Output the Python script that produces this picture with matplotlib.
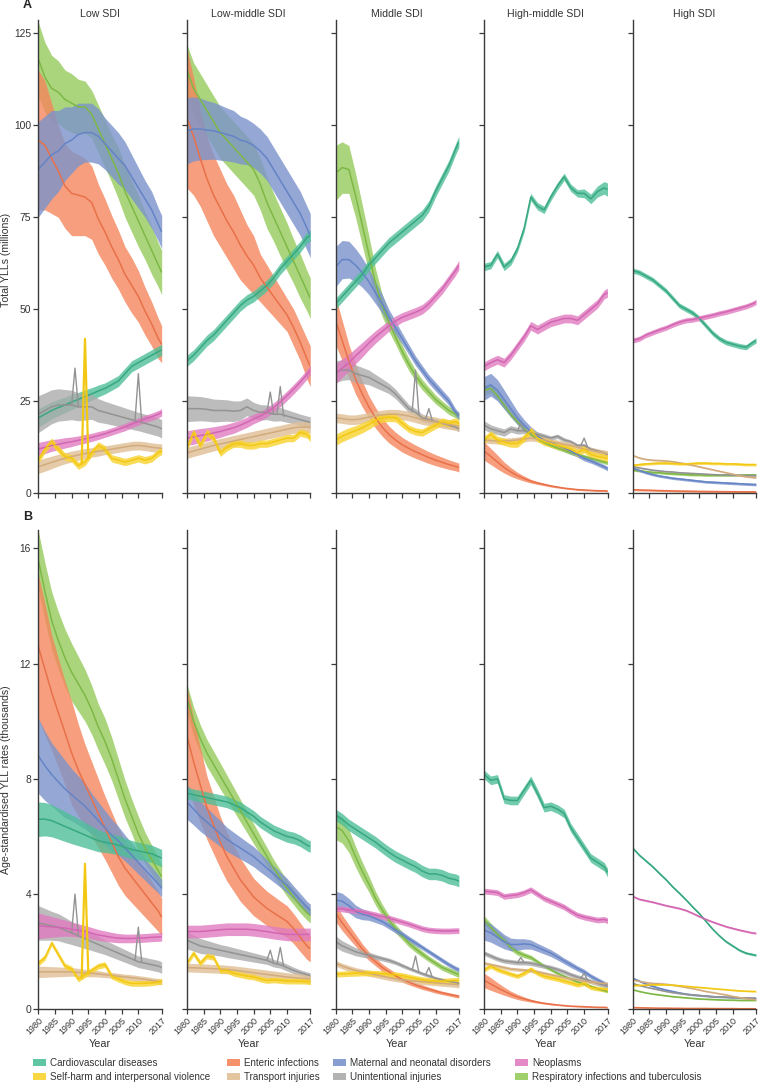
import numpy as np
import matplotlib.pyplot as plt
from matplotlib.patches import Rectangle

plt.rcParams['font.family'] = ['Liberation Sans Narrow', 'Liberation Sans', 'DejaVu Sans']

YEARS = [1980, 1982, 1984, 1986, 1988, 1990, 1992, 1994, 1996, 1998,
         2000, 2002, 2004, 2006, 2008, 2010, 2012, 2014, 2016, 2017]

# drawing order (bottom to top)
CAUSES = ["res", "ent", "mat", "cvd", "uni", "neo", "tra", "shv"]
LABELS = {
    "cvd": "Cardiovascular diseases",
    "ent": "Enteric infections",
    "mat": "Maternal and neonatal disorders",
    "neo": "Neoplasms",
    "shv": "Self-harm and interpersonal violence",
    "tra": "Transport injuries",
    "uni": "Unintentional injuries",
    "res": "Respiratory infections and tuberculosis",
}
COLORS = {
    "cvd": "#4fbf98", "ent": "#f4865c", "mat": "#7b93cb", "neo": "#e07cc0",
    "shv": "#f8d32e", "tra": "#e0bf95", "uni": "#ababab", "res": "#96cb5c",
}
LINE_COLORS = {
    "cvd": "#38a880", "ent": "#e8714a", "mat": "#6584c6", "neo": "#d366b2",
    "shv": "#f2c814", "tra": "#d2ab7c", "uni": "#939393", "res": "#7db846",
}
LEGEND_ORDER = ["cvd", "ent", "mat", "neo", "shv", "tra", "uni", "res"]
PANELS = ["Low SDI", "Low-middle SDI", "Middle SDI", "High-middle SDI", "High SDI"]

# ---------------- A: total YLLs (millions) ----------------
low_a = {
    "cvd": [20.5, 21.5, 22.5, 23.3, 24, 24.8, 25.5, 26.3, 27, 27.8, 28.5, 29.5, 30.5, 32.5, 34.5, 35.5, 36.5, 37.5, 38.5, 39],
    "ent": [96, 94.5, 91, 87.5, 83.5, 81.5, 81, 80.5, 79, 74.5, 71, 67, 63.5, 59.5, 56.5, 53.5, 49.5, 46, 42, 40.5],
    "mat": [88, 90, 92, 93, 95, 96, 97.5, 98, 98, 97, 95, 93, 91, 89, 86, 83, 80, 77, 73, 71],
    "neo": [12, 12.5, 13, 13.3, 13.7, 14, 14.4, 14.8, 15.2, 15.7, 16.2, 16.8, 17.4, 18, 18.8, 19.5, 20.2, 20.8, 21.5, 22],
    "shv": [9, 12, 14, 12, 10, 9.5, 7.5, 8.5, 11, 13, 12, 9.5, 9, 8.5, 9, 9.5, 9, 9.5, 11, 11.5],
    "tra": [7.2, 7.8, 8.4, 9, 9.5, 10, 10.4, 10.8, 11.1, 11.4, 11.7, 12, 12.3, 12.6, 12.9, 13, 12.8, 12.5, 12.3, 12.2],
    "uni": [21.5, 22.5, 23.5, 24, 24, 24, 23.5, 23.5, 23.5, 22.5, 22, 21.5, 21, 20.5, 20, 19.5, 19, 18.5, 18, 17.5],
    "res": [118, 113, 110, 109, 107, 106, 105, 105, 103, 99, 95, 91, 87, 82, 78, 74, 70, 66, 62, 60],
}
low_a_hw = {
    "cvd": [2.5, 2.4, 2.3, 2.2, 2.1, 2, 1.9, 1.8, 1.7, 1.6, 1.5, 1.5, 1.5, 1.5, 1.5, 1.5, 1.5, 1.5, 1.5, 1.5],
    "ent": [19, 17.5, 15, 12.5, 11.5, 11.5, 11, 10.5, 10, 9.5, 9, 8.5, 8, 7.5, 7.5, 7, 6.5, 6, 5.5, 5],
    "mat": [13, 12.5, 12, 11, 10, 9, 8.5, 8, 8, 7.5, 7, 7, 7, 6.5, 6, 5.5, 5, 5, 4.5, 4.5],
    "neo": [1.8, 1.7, 1.6, 1.5, 1.4, 1.3, 1.2, 1.2, 1.1, 1.1, 1, 1, 1, 1, 1, 1, 1, 1, 1, 1],
    "shv": 1.0,
    "tra": [1.8, 1.8, 1.7, 1.6, 1.5, 1.5, 1.4, 1.4, 1.3, 1.3, 1.2, 1.2, 1.2, 1.2, 1.2, 1.2, 1.2, 1.2, 1.2, 1.2],
    "uni": [5, 4.8, 4.6, 4.4, 4.2, 4, 3.8, 3.6, 3.4, 3.2, 3, 2.9, 2.8, 2.7, 2.6, 2.5, 2.5, 2.5, 2.5, 2.5],
    "res": [10, 9.5, 9, 8.5, 8, 8, 7.5, 7, 6.5, 6.5, 6.5, 6.5, 7, 7, 7, 7, 6.5, 6.5, 6, 6],
}
low_a_spikes = [("uni", [1990, 1991, 1992], [24, 34, 23.5]),
                ("uni", [2009, 2010, 2011], [19.7, 32.5, 19.3]),
                ("shv", [1993, 1994, 1995], [8, 42, 9.5])]

lowmid_a = {
    "cvd": [36, 37.5, 39.5, 41.5, 43, 45, 47, 49, 51, 52.5, 53.5, 55, 56.5, 58.5, 61, 63, 65, 67, 69.5, 70],
    "ent": [102, 97, 91, 85.5, 81, 77.5, 74, 71, 67.5, 64.5, 62, 58.5, 56, 53.5, 51, 48.5, 45, 41, 36.5, 34.5],
    "mat": [98.5, 99, 99, 98.7, 98.5, 98, 97.5, 97, 96, 95.5, 94.5, 93, 91, 88, 85, 82, 79, 76, 72, 70],
    "neo": [15, 15.3, 15.7, 16, 16.4, 16.8, 17.3, 17.8, 18.5, 19.3, 20.2, 21, 22, 23.3, 24.8, 26.5, 28.3, 30.2, 32.3, 33.5],
    "shv": [12.5, 16.5, 13, 16.5, 15, 11, 12.5, 13.5, 13.5, 13, 13, 13.5, 13.5, 14, 14.5, 15, 15, 16.5, 16, 15],
    "tra": [11, 11.5, 12, 12.5, 13, 13.4, 13.8, 14.2, 14.6, 15, 15.4, 15.8, 16.2, 16.6, 17, 17.4, 17.8, 18, 18, 17.8],
    "uni": [23, 23, 23, 22.8, 22.5, 22.5, 22.5, 22.3, 22.5, 23.5, 22.5, 22, 22, 21.5, 21.5, 21, 20.5, 20, 19.5, 19.3],
    "res": [115, 110, 107, 104, 101, 98, 96, 94, 92, 90, 88, 84, 79, 75, 71, 67, 63, 59, 55, 53],
}
lowmid_a_hw = {
    "cvd": 1.5,
    "ent": [19, 16, 13, 11.5, 11, 10.5, 10, 10, 9.5, 8.5, 8, 6.5, 6, 5.5, 5, 4.5, 5, 5, 5.5, 5.5],
    "mat": [9, 8.7, 8.4, 8, 7.7, 7.5, 7.2, 7, 6.5, 6.2, 6, 6, 6, 6, 6, 6, 6, 6, 6, 6],
    "neo": [2, 2, 1.9, 1.8, 1.7, 1.6, 1.5, 1.5, 1.4, 1.4, 1.3, 1.3, 1.3, 1.3, 1.3, 1.3, 1.3, 1.3, 1.3, 1.3],
    "shv": 1.0,
    "tra": 1.5,
    "uni": [3.5, 3.4, 3.3, 3.2, 3.1, 3, 2.9, 2.8, 2.6, 2.4, 2.2, 2.1, 2, 1.9, 1.8, 1.7, 1.6, 1.5, 1.5, 1.5],
    "res": [7, 7, 7, 7, 7, 7, 7, 7, 7, 7, 7, 7, 7, 6.5, 6.5, 6.5, 6, 6, 5.5, 5.5],
}
lowmid_a_spikes = [("uni", [2004, 2005, 2006], [22, 27.5, 21.5]),
                   ("uni", [2007, 2008, 2009], [21.5, 29, 21])]

mid_a = {
    "cvd": [51.5, 53.5, 55.5, 57.5, 59.5, 62, 64, 66, 68, 69.5, 71, 72.5, 74, 75.5, 78, 82, 85.5, 89, 93.5, 95.5],
    "ent": [47, 41.5, 36, 31, 27, 23.5, 20.5, 18, 16, 14.5, 13.2, 12.2, 11.3, 10.5, 9.7, 9, 8.4, 7.8, 7.3, 7],
    "mat": [61.5, 63.5, 63.5, 62, 60, 57.5, 54.5, 51.5, 48, 45, 42, 39, 36, 33.5, 31, 29, 27, 25, 22, 21],
    "neo": [32.5, 34, 35.5, 37.3, 39, 40.8, 42.5, 44, 45.5, 46.8, 47.8, 48.5, 49.2, 50, 51.5, 53.5, 55.5, 58, 60.5, 62],
    "shv": [14.5, 15.5, 16.3, 17, 17.8, 18.7, 19.8, 20.5, 20.7, 20.5, 19, 17.5, 16.8, 16.5, 17.5, 18.5, 19.5, 19, 19.5, 19],
    "tra": [20.5, 20.3, 20, 20, 20.3, 20.7, 21, 21.3, 21.5, 21.5, 21.3, 21, 20.5, 20, 19.7, 19.4, 19, 18.7, 18.4, 18.2],
    "uni": [33, 33.5, 33.5, 32.5, 32, 31.5, 30.5, 29.5, 28.5, 27, 25, 23, 22, 20.5, 20, 19.5, 19, 18.5, 18, 17.5],
    "res": [87, 88.5, 88, 81, 73, 65, 57, 51, 46.5, 42.5, 38.5, 35, 32, 29.5, 27.5, 25.5, 24, 22.5, 21.5, 21],
}
mid_a_hw = {
    "cvd": 1.5,
    "ent": [6.5, 5.5, 4.5, 4, 3.5, 3, 2.8, 2.5, 2.3, 2.1, 2, 1.9, 1.8, 1.7, 1.6, 1.5, 1.4, 1.3, 1.2, 1.2],
    "mat": [5.5, 5.2, 5, 4.5, 4, 3.5, 3, 2.5, 2, 1.8, 1.5, 1.4, 1.3, 1.2, 1.2, 1.2, 1.1, 1.1, 1, 1],
    "neo": [2.7, 2.5, 2.3, 2.1, 2, 1.8, 1.7, 1.6, 1.5, 1.4, 1.3, 1.3, 1.3, 1.3, 1.3, 1.3, 1.3, 1.3, 1.3, 1.3],
    "shv": [1.5, 1.5, 1.5, 1.4, 1.4, 1.3, 1.3, 1.2, 1.2, 1.1, 1.1, 1, 1, 1, 1, 1, 1, 1, 1, 1],
    "tra": 1.3,
    "uni": [3, 2.8, 2.6, 2.4, 2.2, 2, 1.8, 1.6, 1.4, 1.3, 1.2, 1.1, 1, 1, 0.9, 0.9, 0.8, 0.8, 0.8, 0.8],
    "res": [7.5, 7, 6.5, 6, 5.5, 5, 4, 3, 2.5, 2, 1.8, 1.7, 1.5, 1.4, 1.3, 1.2, 1.1, 1.1, 1, 1],
}
mid_a_spikes = [("uni", [2003, 2004, 2005], [22.3, 33.5, 21.5]),
                ("uni", [2007, 2008, 2009], [20.2, 23, 19.8])]

highmid_a = {
    "cvd": [61.5, 62, 65, 61.5, 63, 66.5, 72, 80.5, 78, 77, 80.5, 83.5, 86, 83, 81.5, 81.5, 80, 82, 83, 82.5],
    "ent": [11.5, 10, 8.5, 7, 5.8, 4.8, 4, 3.3, 2.8, 2.4, 2, 1.7, 1.4, 1.2, 1, 0.9, 0.8, 0.7, 0.7, 0.6],
    "mat": [28.5, 29.5, 28, 25.5, 23, 20.5, 18.5, 16.8, 15.5, 14.5, 13.7, 13, 12.3, 11.5, 10.5, 9.5, 8.8, 8, 7.2, 6.7],
    "neo": [34.5, 35.5, 36.3, 35.5, 37.5, 40, 42.5, 45.5, 44.5, 45.5, 46.5, 47, 47.5, 47.5, 47, 48.5, 50, 51.5, 54, 54.5],
    "shv": [14.5, 16, 14.5, 14, 13.5, 13.5, 15, 17, 15, 14, 13.5, 13, 12.5, 12, 11, 12, 10.5, 10, 9.7, 9.5],
    "tra": [14.5, 14.3, 14.2, 14.2, 14.3, 14.5, 14.8, 15, 14.8, 14.5, 14, 13.7, 13.3, 13, 12.5, 12, 11.7, 11.3, 11, 10.8],
    "uni": [18.5, 17.5, 17, 16.5, 17.5, 17, 17, 16.5, 16, 15.5, 15, 15.5, 14.5, 14, 13, 13, 12, 11.5, 11, 10.5],
    "res": [28, 28.5, 26.5, 24, 21.5, 19.5, 17.5, 16, 14.8, 13.8, 13, 12.3, 11.7, 11, 10.5, 10, 9.5, 9, 8.5, 8.3],
}
highmid_a_hw = {
    "cvd": [1, 1, 1, 1, 1, 1, 1, 1, 1, 1, 1, 1, 1, 1, 1, 1.2, 1.3, 1.5, 1.7, 1.8],
    "ent": [2.5, 2.2, 1.9, 1.5, 1.2, 0.9, 0.7, 0.5, 0.4, 0.35, 0.3, 0.25, 0.2, 0.2, 0.2, 0.2, 0.2, 0.2, 0.2, 0.2],
    "mat": [3.2, 3.1, 2.9, 2.6, 2.2, 1.8, 1.5, 1.3, 1.1, 1, 1, 0.9, 0.8, 0.8, 0.7, 0.7, 0.6, 0.6, 0.6, 0.6],
    "neo": 1.2,
    "shv": 1.0,
    "tra": 0.8,
    "uni": [1.2, 1.1, 1, 1, 0.9, 0.9, 0.8, 0.8, 0.7, 0.7, 0.6, 0.6, 0.6, 0.5, 0.5, 0.5, 0.5, 0.5, 0.5, 0.5],
    "res": [1.3, 1.2, 1.1, 1, 0.9, 0.8, 0.7, 0.6, 0.5, 0.5, 0.5, 0.5, 0.5, 0.5, 0.5, 0.5, 0.5, 0.5, 0.5, 0.5],
}
highmid_a_spikes = [("uni", [1990, 1991, 1992], [17, 19, 17]),
                    ("uni", [2009, 2010, 2011], [13, 15, 12.6])]

high_a = {
    "cvd": [60.5, 60, 59, 58, 56.5, 55, 53, 51, 50, 49, 47.5, 45.5, 43.5, 42, 41, 40.5, 40, 39.7, 41, 41.5],
    "ent": [1.0, 0.9, 0.85, 0.8, 0.75, 0.7, 0.65, 0.6, 0.58, 0.55, 0.52, 0.5, 0.48, 0.46, 0.44, 0.42, 0.41, 0.4, 0.4, 0.4],
    "mat": [6.8, 6.2, 5.6, 5.1, 4.7, 4.4, 4.1, 3.9, 3.7, 3.5, 3.3, 3.1, 3, 2.9, 2.8, 2.7, 2.6, 2.5, 2.4, 2.4],
    "neo": [41.5, 42, 43, 43.7, 44.4, 45, 45.8, 46.5, 47, 47.2, 47.6, 48, 48.4, 48.9, 49.3, 49.8, 50.3, 50.8, 51.5, 52],
    "shv": [7.6, 7.8, 8, 8.1, 8.2, 8.2, 8.1, 8, 8, 8.1, 8.2, 8.2, 8.1, 8.1, 8, 8, 7.9, 7.8, 7.8, 7.8],
    "tra": [10.3, 9.6, 9.2, 9, 8.9, 8.8, 8.6, 8.3, 8, 7.6, 7.2, 6.8, 6.4, 6, 5.6, 5.2, 4.8, 4.5, 4.3, 4.2],
    "uni": [7.2, 6.9, 6.6, 6.3, 6.1, 5.9, 5.8, 5.6, 5.5, 5.4, 5.3, 5.2, 5.1, 5, 5, 4.9, 4.9, 4.8, 4.8, 4.8],
    "res": [6.3, 6.1, 5.9, 5.7, 5.6, 5.4, 5.3, 5.2, 5.1, 5, 5, 4.9, 4.9, 4.9, 4.9, 4.9, 4.9, 5, 5, 5],
}
high_a_hw = {"cvd": 0.7, "ent": 0.25, "mat": 0.35, "neo": 0.7,
             "shv": 0.35, "tra": 0.2, "uni": 0.2, "res": 0.3}

# ---------------- B: age-standardised YLL rates (thousands) ----------------
low_b = {
    "cvd": [6.6, 6.6, 6.55, 6.45, 6.35, 6.25, 6.15, 6.05, 5.95, 5.85, 5.8, 5.75, 5.7, 5.62, 5.55, 5.5, 5.45, 5.4, 5.3, 5.25],
    "ent": [12.6, 11.8, 11.0, 10.3, 9.6, 8.9, 8.3, 7.8, 7.3, 6.8, 6.3, 5.8, 5.3, 4.9, 4.6, 4.3, 4.0, 3.7, 3.4, 3.2],
    "mat": [8.8, 8.45, 8.15, 7.9, 7.65, 7.45, 7.25, 7.05, 6.8, 6.55, 6.3, 6.05, 5.85, 5.6, 5.35, 5.1, 4.85, 4.6, 4.35, 4.2],
    "neo": [2.9, 2.88, 2.86, 2.84, 2.82, 2.78, 2.74, 2.7, 2.64, 2.58, 2.54, 2.5, 2.47, 2.46, 2.46, 2.47, 2.48, 2.5, 2.51, 2.52],
    "shv": [1.6, 1.8, 2.3, 1.9, 1.5, 1.4, 1.05, 1.2, 1.35, 1.5, 1.55, 1.15, 1.05, 0.95, 0.9, 0.9, 0.9, 0.92, 0.95, 0.97],
    "tra": [1.3, 1.3, 1.3, 1.3, 1.3, 1.3, 1.28, 1.26, 1.25, 1.23, 1.2, 1.18, 1.15, 1.12, 1.1, 1.07, 1.04, 1.0, 0.97, 0.95],
    "uni": [3.0, 2.95, 2.9, 2.85, 2.75, 2.65, 2.55, 2.45, 2.35, 2.25, 2.15, 2.05, 1.95, 1.85, 1.75, 1.65, 1.6, 1.55, 1.5, 1.45],
    "res": [15.6, 14.5, 13.5, 12.8, 12.2, 11.7, 11.3, 10.9, 10.4, 9.8, 9.3, 8.7, 8.0, 7.3, 6.7, 6.1, 5.6, 5.2, 4.8, 4.6],
}
low_b_hw = {
    "cvd": [0.6, 0.58, 0.56, 0.54, 0.52, 0.5, 0.47, 0.44, 0.41, 0.38, 0.35, 0.34, 0.33, 0.32, 0.31, 0.3, 0.3, 0.3, 0.3, 0.3],
    "ent": [2.5, 2.3, 2.0, 1.9, 1.8, 1.8, 1.6, 1.4, 1.3, 1.2, 1.1, 1.05, 1.0, 0.95, 0.9, 0.85, 0.8, 0.75, 0.7, 0.65],
    "mat": [1.3, 1.2, 1.1, 1.05, 1, 0.9, 0.85, 0.8, 0.7, 0.65, 0.6, 0.55, 0.5, 0.45, 0.42, 0.4, 0.37, 0.35, 0.32, 0.3],
    "neo": [0.45, 0.4, 0.36, 0.32, 0.28, 0.25, 0.23, 0.21, 0.2, 0.19, 0.18, 0.17, 0.16, 0.15, 0.15, 0.15, 0.15, 0.15, 0.15, 0.15],
    "shv": 0.1,
    "tra": [0.2, 0.19, 0.18, 0.17, 0.16, 0.15, 0.14, 0.13, 0.12, 0.11, 0.1, 0.1, 0.1, 0.1, 0.1, 0.1, 0.1, 0.1, 0.1, 0.1],
    "uni": [0.6, 0.55, 0.5, 0.47, 0.44, 0.4, 0.37, 0.34, 0.31, 0.28, 0.25, 0.24, 0.23, 0.22, 0.21, 0.2, 0.2, 0.2, 0.2, 0.2],
    "res": [1, 1, 1, 1, 1, 1, 0.95, 0.9, 0.85, 0.8, 0.8, 0.75, 0.7, 0.65, 0.6, 0.6, 0.55, 0.5, 0.45, 0.4],
}
low_b_spikes = [("uni", [1990, 1991, 1992], [2.65, 4.0, 2.6]),
                ("uni", [2009, 2010, 2011], [1.7, 2.85, 1.65]),
                ("shv", [1993, 1994, 1995], [1.1, 5.05, 1.25])]

lowmid_b = {
    "cvd": [7.5, 7.45, 7.4, 7.35, 7.3, 7.25, 7.2, 7.1, 7.0, 6.85, 6.7, 6.5, 6.35, 6.2, 6.1, 6.0, 5.95, 5.85, 5.7, 5.65],
    "ent": [9.5, 8.6, 7.8, 7.0, 6.4, 5.8, 5.3, 4.9, 4.5, 4.2, 3.9, 3.7, 3.5, 3.35, 3.2, 3.05, 2.8, 2.5, 2.2, 2.1],
    "mat": [7.2, 6.95, 6.7, 6.5, 6.3, 6.1, 5.9, 5.75, 5.6, 5.45, 5.3, 5.1, 4.9, 4.7, 4.5, 4.3, 4.05, 3.8, 3.55, 3.45],
    "neo": [2.7, 2.7, 2.7, 2.72, 2.74, 2.76, 2.78, 2.78, 2.78, 2.78, 2.76, 2.73, 2.7, 2.66, 2.63, 2.6, 2.6, 2.6, 2.6, 2.6],
    "shv": [1.6, 1.95, 1.6, 1.85, 1.8, 1.35, 1.35, 1.25, 1.2, 1.15, 1.12, 1.05, 1.0, 1.02, 1.0, 0.98, 0.98, 0.98, 0.97, 0.95],
    "tra": [1.45, 1.44, 1.43, 1.42, 1.41, 1.4, 1.38, 1.36, 1.33, 1.3, 1.27, 1.24, 1.21, 1.18, 1.15, 1.12, 1.1, 1.08, 1.06, 1.05],
    "uni": [2.4, 2.3, 2.2, 2.15, 2.1, 2.05, 2.0, 1.95, 1.9, 1.85, 1.8, 1.75, 1.7, 1.6, 1.55, 1.45, 1.35, 1.27, 1.2, 1.17],
    "res": [10.8, 10.0, 9.4, 8.9, 8.5, 8.1, 7.7, 7.3, 6.9, 6.5, 6.1, 5.7, 5.3, 4.9, 4.55, 4.2, 3.9, 3.6, 3.35, 3.25],
}
lowmid_b_hw = {
    "cvd": 0.2,
    "ent": [1.7, 1.5, 1.3, 1.1, 1.0, 0.9, 0.85, 0.8, 0.75, 0.7, 0.65, 0.62, 0.6, 0.58, 0.56, 0.55, 0.52, 0.5, 0.47, 0.45],
    "mat": [0.6, 0.55, 0.52, 0.5, 0.47, 0.45, 0.42, 0.4, 0.38, 0.36, 0.35, 0.33, 0.3, 0.28, 0.26, 0.25, 0.23, 0.22, 0.2, 0.2],
    "neo": 0.22,
    "shv": 0.1,
    "tra": 0.15,
    "uni": [0.3, 0.28, 0.26, 0.24, 0.22, 0.2, 0.2, 0.19, 0.18, 0.17, 0.16, 0.15, 0.14, 0.13, 0.12, 0.12, 0.11, 0.1, 0.1, 0.1],
    "res": [0.5, 0.5, 0.48, 0.47, 0.46, 0.45, 0.43, 0.41, 0.39, 0.37, 0.35, 0.33, 0.32, 0.3, 0.29, 0.28, 0.27, 0.26, 0.25, 0.25],
}
lowmid_b_spikes = [("uni", [2004, 2005, 2006], [1.7, 2.05, 1.6]),
                   ("uni", [2007, 2008, 2009], [1.57, 2.15, 1.5])]

mid_b = {
    "cvd": [6.75, 6.6, 6.4, 6.25, 6.1, 5.95, 5.8, 5.62, 5.45, 5.3, 5.18, 5.06, 4.95, 4.8, 4.7, 4.7, 4.65, 4.55, 4.5, 4.45],
    "ent": [3.35, 3.0, 2.7, 2.4, 2.1, 1.85, 1.65, 1.45, 1.3, 1.16, 1.04, 0.94, 0.85, 0.77, 0.7, 0.63, 0.57, 0.52, 0.47, 0.45],
    "mat": [3.8, 3.75, 3.6, 3.4, 3.3, 3.25, 3.15, 3.05, 2.9, 2.75, 2.6, 2.45, 2.3, 2.15, 2.0, 1.85, 1.7, 1.55, 1.42, 1.37],
    "neo": [3.5, 3.48, 3.45, 3.42, 3.38, 3.33, 3.28, 3.22, 3.17, 3.1, 3.03, 2.96, 2.88, 2.8, 2.75, 2.73, 2.72, 2.72, 2.73, 2.73],
    "shv": [1.22, 1.23, 1.24, 1.25, 1.26, 1.26, 1.25, 1.24, 1.22, 1.2, 1.17, 1.12, 1.07, 1.03, 1.0, 0.98, 0.98, 0.99, 1.0, 1.0],
    "tra": [1.6, 1.5, 1.42, 1.35, 1.3, 1.25, 1.2, 1.15, 1.1, 1.06, 1.03, 1.0, 0.98, 0.96, 0.94, 0.92, 0.9, 0.88, 0.86, 0.85],
    "uni": [2.35, 2.2, 2.1, 2.0, 1.93, 1.88, 1.82, 1.76, 1.7, 1.62, 1.52, 1.42, 1.33, 1.24, 1.16, 1.08, 1.02, 0.97, 0.93, 0.9],
    "res": [6.35, 6.2, 5.85, 5.3, 4.8, 4.35, 3.85, 3.45, 3.1, 2.8, 2.55, 2.3, 2.1, 1.92, 1.75, 1.6, 1.45, 1.35, 1.25, 1.2],
}
mid_b_hw = {
    "cvd": 0.2,
    "ent": [0.3, 0.27, 0.24, 0.21, 0.18, 0.15, 0.14, 0.13, 0.12, 0.11, 0.1, 0.09, 0.08, 0.08, 0.07, 0.07, 0.06, 0.06, 0.06, 0.06],
    "mat": [0.3, 0.28, 0.25, 0.22, 0.19, 0.16, 0.14, 0.12, 0.11, 0.1, 0.1, 0.09, 0.09, 0.08, 0.08, 0.08, 0.08, 0.08, 0.08, 0.08],
    "neo": 0.1,
    "shv": 0.1,
    "tra": 0.1,
    "uni": [0.2, 0.18, 0.16, 0.14, 0.12, 0.1, 0.09, 0.08, 0.08, 0.07, 0.07, 0.06, 0.06, 0.06, 0.06, 0.06, 0.06, 0.06, 0.06, 0.06],
    "res": [0.45, 0.43, 0.4, 0.36, 0.32, 0.28, 0.24, 0.2, 0.17, 0.15, 0.14, 0.13, 0.12, 0.11, 0.1, 0.1, 0.1, 0.1, 0.1, 0.1],
}
mid_b_spikes = [("uni", [2003, 2004, 2005], [1.37, 1.85, 1.28]),
                ("uni", [2007, 2008, 2009], [1.2, 1.45, 1.12])]

highmid_b = {
    "cvd": [8.15, 7.95, 8.0, 7.3, 7.25, 7.25, 7.6, 7.95, 7.5, 7.0, 7.05, 6.95, 6.8, 6.3, 5.95, 5.6, 5.25, 5.1, 4.95, 4.75],
    "ent": [1.0, 0.88, 0.75, 0.63, 0.52, 0.43, 0.36, 0.3, 0.25, 0.21, 0.18, 0.15, 0.13, 0.11, 0.1, 0.09, 0.08, 0.07, 0.07, 0.06],
    "mat": [2.75, 2.65, 2.5, 2.35, 2.25, 2.25, 2.27, 2.25, 2.15, 2.05, 1.95, 1.82, 1.68, 1.55, 1.42, 1.3, 1.15, 1.02, 0.9, 0.85],
    "neo": [4.1, 4.08, 4.05, 3.92, 3.95, 3.98, 4.05, 4.15, 4.0, 3.85, 3.75, 3.65, 3.55, 3.4, 3.27, 3.2, 3.15, 3.1, 3.12, 3.08],
    "shv": [1.38, 1.5, 1.38, 1.3, 1.22, 1.15, 1.25, 1.4, 1.25, 1.15, 1.1, 1.05, 0.98, 0.92, 0.85, 0.9, 0.76, 0.72, 0.69, 0.68],
    "tra": [1.6, 1.55, 1.5, 1.45, 1.4, 1.38, 1.36, 1.34, 1.3, 1.25, 1.2, 1.15, 1.1, 1.06, 1.02, 0.98, 0.95, 0.92, 0.9, 0.88],
    "uni": [1.95, 1.85, 1.75, 1.68, 1.65, 1.62, 1.62, 1.6, 1.55, 1.5, 1.45, 1.38, 1.3, 1.2, 1.12, 1.05, 0.97, 0.9, 0.83, 0.8],
    "res": [3.1, 2.85, 2.6, 2.4, 2.15, 1.98, 1.88, 1.8, 1.65, 1.5, 1.38, 1.25, 1.15, 1.05, 0.95, 0.88, 0.8, 0.72, 0.65, 0.62],
}
highmid_b_hw = {
    "cvd": 0.15,
    "ent": [0.25, 0.22, 0.18, 0.14, 0.11, 0.09, 0.07, 0.05, 0.04, 0.03, 0.03, 0.02, 0.02, 0.02, 0.02, 0.02, 0.02, 0.02, 0.02, 0.02],
    "mat": [0.35, 0.32, 0.29, 0.25, 0.22, 0.2, 0.18, 0.16, 0.14, 0.13, 0.12, 0.11, 0.1, 0.1, 0.09, 0.09, 0.08, 0.08, 0.08, 0.08],
    "neo": 0.1,
    "shv": 0.08,
    "tra": 0.06,
    "uni": 0.08,
    "res": [0.15, 0.14, 0.13, 0.12, 0.11, 0.1, 0.09, 0.08, 0.07, 0.06, 0.06, 0.05, 0.05, 0.05, 0.05, 0.05, 0.05, 0.05, 0.05, 0.05],
}
highmid_b_spikes = [("uni", [1990, 1991, 1992], [1.62, 1.8, 1.62]),
                    ("uni", [2009, 2010, 2011], [1.08, 1.25, 1.02])]

high_b = {
    "cvd": [5.6, 5.35, 5.15, 4.95, 4.72, 4.5, 4.25, 4.03, 3.8, 3.55, 3.32, 3.05, 2.78, 2.55, 2.35, 2.2, 2.05, 1.95, 1.9, 1.88],
    "ent": [0.06, 0.055, 0.05, 0.045, 0.04, 0.04, 0.035, 0.035, 0.03, 0.03, 0.03, 0.03, 0.025, 0.025, 0.025, 0.025, 0.02, 0.02, 0.02, 0.02],
    "mat": [1.08, 0.98, 0.88, 0.8, 0.73, 0.67, 0.62, 0.57, 0.53, 0.5, 0.48, 0.46, 0.44, 0.43, 0.42, 0.41, 0.4, 0.39, 0.38, 0.38],
    "neo": [3.92, 3.82, 3.77, 3.72, 3.66, 3.6, 3.55, 3.5, 3.43, 3.33, 3.22, 3.12, 3.03, 2.95, 2.87, 2.81, 2.75, 2.7, 2.65, 2.64],
    "shv": [0.82, 0.83, 0.84, 0.85, 0.85, 0.85, 0.84, 0.82, 0.8, 0.78, 0.76, 0.74, 0.72, 0.7, 0.68, 0.66, 0.64, 0.63, 0.62, 0.62],
    "tra": [1.02, 0.97, 0.93, 0.9, 0.89, 0.87, 0.84, 0.8, 0.76, 0.72, 0.67, 0.62, 0.58, 0.54, 0.5, 0.45, 0.41, 0.37, 0.34, 0.33],
    "uni": [0.9, 0.83, 0.77, 0.72, 0.67, 0.62, 0.58, 0.55, 0.52, 0.5, 0.48, 0.46, 0.44, 0.43, 0.42, 0.41, 0.4, 0.4, 0.39, 0.39],
    "res": [0.68, 0.62, 0.57, 0.53, 0.5, 0.47, 0.44, 0.42, 0.4, 0.38, 0.36, 0.35, 0.34, 0.33, 0.32, 0.32, 0.31, 0.31, 0.31, 0.31],
}
high_b_hw = {"cvd": 0.04, "ent": 0.01, "mat": 0.03, "neo": 0.03,
             "shv": 0.02, "tra": 0.02, "uni": 0.02, "res": 0.02}

ROW_A = [(low_a, low_a_hw, low_a_spikes), (lowmid_a, lowmid_a_hw, lowmid_a_spikes),
         (mid_a, mid_a_hw, mid_a_spikes), (highmid_a, highmid_a_hw, highmid_a_spikes),
         (high_a, high_a_hw, [])]
ROW_B = [(low_b, low_b_hw, low_b_spikes), (lowmid_b, lowmid_b_hw, lowmid_b_spikes),
         (mid_b, mid_b_hw, mid_b_spikes), (highmid_b, highmid_b_hw, highmid_b_spikes),
         (high_b, high_b_hw, [])]

XTICKS = [1980, 1985, 1990, 1995, 2000, 2005, 2010, 2017]

W, H = 758, 1083
fig = plt.figure(figsize=(W / 100, H / 100), dpi=100)


def px_axes(left, top, width, height):
    return fig.add_axes([left / W, 1 - (top + height) / H, width / W, height / H])


def draw_panel(ax, mids, hws, spikes):
    x = np.array(YEARS)
    for cause in CAUSES:
        m = np.array(mids[cause], dtype=float)
        hw = np.broadcast_to(np.array(hws[cause], dtype=float), m.shape)
        ax.fill_between(x, m - hw, m + hw, color=COLORS[cause], alpha=0.8, lw=0)
        ax.plot(x, m, color=LINE_COLORS[cause], lw=1.1, solid_capstyle="butt")
        for sc, sx, sy in spikes:
            if sc == cause:
                lw = 1.6 if sc == "shv" else 1.0
                ax.plot(sx, sy, color=LINE_COLORS[sc], lw=lw)


def style_axes(ax, ymax, yticks, show_ylabels, show_xlabels):
    ax.set_xlim(1980, 2017)
    ax.set_ylim(0, ymax)
    for s in ["top", "right"]:
        ax.spines[s].set_visible(False)
    for s in ["left", "bottom"]:
        ax.spines[s].set_color("#3a3a3a")
        ax.spines[s].set_linewidth(1.0)
    ax.set_yticks(yticks)
    ax.set_xticks(XTICKS)
    ax.tick_params(axis="both", length=3.8, width=0.9, color="#3a3a3a",
                   labelcolor="#333333", pad=1.5)
    ax.tick_params(axis="y", labelsize=7.4)
    ax.tick_params(axis="x", labelsize=6.5, pad=1.2)
    if not show_ylabels:
        ax.set_yticklabels([])
    if show_xlabels:
        ax.set_xticklabels([str(t) for t in XTICKS], rotation=45, ha="right",
                           rotation_mode="anchor")
    else:
        ax.set_xticklabels([])


PANEL_LEFT0, PANEL_STEP, PANEL_W = 38.3, 148.6, 123.4

for k in range(5):
    left = PANEL_LEFT0 + PANEL_STEP * k
    # row A
    axa = px_axes(left, 20, PANEL_W, 473.3)
    mids, hws, spikes = ROW_A[k]
    draw_panel(axa, mids, hws, spikes)
    style_axes(axa, 128.6, [0, 25, 50, 75, 100, 125], k == 0, False)
    fig.text((left + PANEL_W / 2) / W, 1 - 14 / H, PANELS[k], ha="center", va="center",
             fontsize=7.6, color="#333333")
    # row B
    axb = px_axes(left, 530, PANEL_W, 479.3)
    mids, hws, spikes = ROW_B[k]
    draw_panel(axb, mids, hws, spikes)
    style_axes(axb, 16.64, [0, 4, 8, 12, 16], k == 0, True)
    fig.text((left + PANEL_W / 2) / W, 1 - 1044 / H, "Year", ha="center", va="center",
             fontsize=7.8, color="#333333")

fig.text(23 / W, 1 - 5 / H, "A", ha="left", va="center", fontsize=9, fontweight="bold", color="#222222")
fig.text(23 / W, 1 - 517 / H, "B", ha="left", va="center", fontsize=9, fontweight="bold", color="#222222")
fig.text(6 / W, 1 - 260 / H, "Total YLLs (millions)", rotation=90, ha="center", va="center",
         fontsize=7.6, color="#333333")
fig.text(6 / W, 1 - 780 / H, "Age-standardised YLL rates (thousands)", rotation=90, ha="center",
         va="center", fontsize=7.6, color="#333333")

# legend, two rows of four
col_x = [33, 227, 333, 515]
row_y = [1062.7, 1076.7]
for i, cause in enumerate(LEGEND_ORDER):
    r, c = divmod(i, 4)
    x0, yc = col_x[c], row_y[r]
    fig.patches.append(Rectangle((x0 / W, 1 - (yc + 3.5) / H), 13 / W, 7 / H,
                                 transform=fig.transFigure, facecolor=COLORS[cause],
                                 edgecolor="none", alpha=0.9))
    fig.text((x0 + 17) / W, 1 - yc / H, LABELS[cause], ha="left", va="center",
             fontsize=7.1, color="#333333")

fig.savefig("out.png", dpi=100)
